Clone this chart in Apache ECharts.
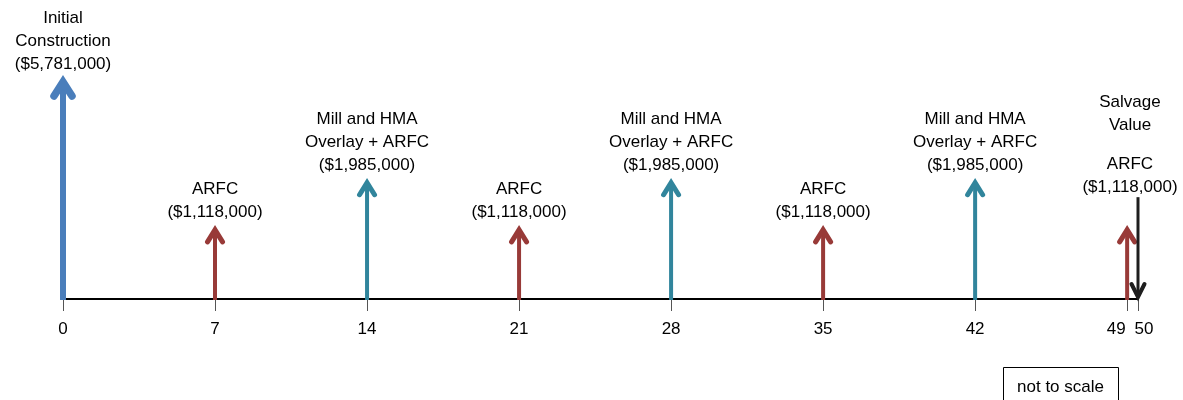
<!DOCTYPE html>
<html>
<head>
<meta charset="utf-8">
<script src="https://cdn.jsdelivr.net/npm/echarts@6/dist/echarts.min.js"></script>
<style>
html,body{margin:0;padding:0;background:#fff;}
#chart{width:1183px;height:400px;}
</style>
</head>
<body>
<div id="chart"></div>
<script>
// ---- data ----
const years = [0, 7, 14, 21, 28, 35, 42, 49, 50];
const kinds = ['initial', 'arfc', 'mill', 'arfc', 'mill', 'arfc', 'mill', 'arfc', 'salvage'];
const costs = [5781000, 1118000, 1985000, 1118000, 1985000, 1118000, 1985000, 1118000, null];
// relative arrow heights as drawn (diagram is "not to scale")
const arrowHeights = [10, 3.25, 5.4, 3.25, 5.4, 3.25, 5.4, 3.25, 4.65];
const eventNames = {
  initial: 'Initial\nConstruction',
  arfc: 'ARFC',
  mill: 'Mill and HMA\nOverlay + ARFC',
  salvage: 'Salvage\nValue'
};
const tickYears = [0, 7, 14, 21, 28, 35, 42, 49, 50];
const tickLabels = ['0', '7', '14', '21', '28', '35', '42', '49', '50'];
const noteText = 'not to scale';

// ---- styling ----
const colors = { initial: '#4a7ebb', arfc: '#983a38', mill: '#31859c', salvage: '#1e1e1e' };
const widths = { initial: 6, arfc: 4, mill: 4, salvage: 3 };
const headWidths = { initial: 7.5, arfc: 5, mill: 5, salvage: 4 };
const heads = { initial: [9, 14], arfc: [7.5, 12], mill: [7.5, 12], salvage: [6.5, 13] };
const FONT = 'Liberation Sans, Arial, sans-serif';

// timeline is compressed after year 49 (not to scale)
function axisPos(y) { return y <= 49 ? y : 49 + (y - 49) * 0.5; }

function money(v) { return '($' + v.toLocaleString('en-US') + ')'; }

const seriesData = years.map((y, i) => [axisPos(y), arrowHeights[i], i]);

function renderItem(params, api) {
  const i = api.value(2);
  const kind = kinds[i];
  const base = api.coord([api.value(0), 0]);
  const top = api.coord([api.value(0), api.value(1)]);
  const c = colors[kind], lw = widths[kind], hd = heads[kind], hw = headWidths[kind];
  const children = [];
  if (kind === 'salvage') {
    const tipY = base[1] - 2;
    children.push({ type: 'line', shape: { x1: base[0], y1: top[1], x2: base[0], y2: tipY - 2 },
      style: { stroke: c, lineWidth: lw } });
    children.push({ type: 'polyline', shape: { points: [[base[0] - hd[0], tipY - hd[1]], [base[0], tipY], [base[0] + hd[0], tipY - hd[1]]] },
      style: { stroke: c, lineWidth: hw, fill: null, lineCap: 'round', lineJoin: 'miter' } });
    // stacked label: salvage name above the ARFC label at year 49
    const j = years.indexOf(49);
    children.push({ type: 'text', style: {
      text: eventNames.salvage.split('\n').map(s => '{t|' + s + '}').join('\n') + '\n{s| }\n{t|' + eventNames[kinds[j]] + '}\n{t|' + money(costs[j]) + '}',
      x: base[0] - 8, y: top[1] + 2, align: 'center', verticalAlign: 'bottom', fill: '#000',
      rich: { t: { fontSize: 17, lineHeight: 23, fontFamily: FONT, fill: '#000', align: 'center' },
              s: { fontSize: 8, lineHeight: 16, fontFamily: FONT } }
    } });
  } else {
    const tipY = top[1] + 2;
    children.push({ type: 'line', shape: { x1: base[0], y1: base[1] + 1, x2: base[0], y2: tipY + 2 },
      style: { stroke: c, lineWidth: lw } });
    children.push({ type: 'polyline', shape: { points: [[top[0] - hd[0], tipY + hd[1]], [top[0], tipY], [top[0] + hd[0], tipY + hd[1]]] },
      style: { stroke: c, lineWidth: hw, fill: null, lineCap: 'round', lineJoin: 'miter' } });
    if (years[i] !== 49) {
      children.push({ type: 'text', style: {
        text: eventNames[kind] + '\n' + money(costs[i]),
        x: top[0], y: top[1] - 4, align: 'center', verticalAlign: 'bottom',
        fontSize: 17, lineHeight: 23, fontFamily: FONT, fill: '#000'
      } });
    }
  }
  return { type: 'group', children };
}

const chart = echarts.init(document.getElementById('chart'), null, { renderer: 'canvas' });
const tickPos = tickYears.map(axisPos);
chart.setOption({
  animation: false,
  backgroundColor: '#fff',
  grid: { left: 63, right: 45, top: 80, bottom: 101, containLabel: false },
  xAxis: {
    type: 'value', min: 0, max: axisPos(50),
    axisLine: { show: true, lineStyle: { color: '#000', width: 2 } },
    axisTick: { show: true, customValues: tickPos, length: 12, lineStyle: { color: '#555', width: 1 } },
    axisLabel: {
      show: true, customValues: tickPos, margin: 22,
      formatter: function (v) {
        const k = tickPos.findIndex(p => Math.abs(p - v) < 1e-6);
        const t = k >= 0 ? tickLabels[k] : '';
        if (t === '49') return '{r|' + t + '}';
        if (t === '50') return '{l|' + t + '}';
        return '{n|' + t + '}';
      },
      rich: {
        n: { fontSize: 17, fontFamily: FONT, color: '#000' },
        r: { fontSize: 17, fontFamily: FONT, color: '#000', padding: [0, 22, 0, 0] },
        l: { fontSize: 17, fontFamily: FONT, color: '#000', padding: [0, 0, 0, 12] }
      }
    },
    splitLine: { show: false }
  },
  yAxis: { type: 'value', min: 0, max: 10, show: false, splitLine: { show: false } },
  series: [{
    type: 'custom', clip: false, renderItem: renderItem, data: seriesData,
    encode: { x: 0, y: 1 }
  }],
  graphic: [{
    type: 'group', left: 1003, top: 367, children: [
      { type: 'rect', shape: { x: 0, y: 0, width: 115, height: 40 }, style: { fill: '#fff', stroke: '#000', lineWidth: 1 } },
      { type: 'text', style: { text: noteText, x: 57, y: 20, align: 'center', verticalAlign: 'middle', fontSize: 17, fontFamily: FONT, fill: '#000' } }
    ]
  }]
});
</script>
</body>
</html>
